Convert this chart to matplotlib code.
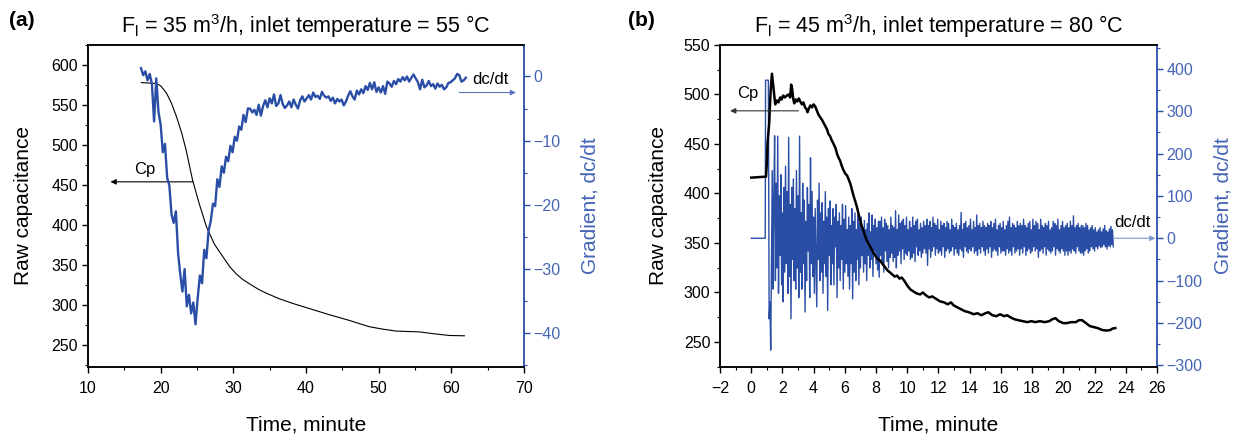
import matplotlib
matplotlib.use('Agg')
import matplotlib.pyplot as plt
from matplotlib.ticker import MultipleLocator
import numpy as np

plt.rcParams['font.family'] = ['Liberation Sans', 'DejaVu Sans']
plt.rcParams['mathtext.fontset'] = 'custom'
plt.rcParams['mathtext.rm'] = 'Liberation Sans'
plt.rcParams['axes.linewidth'] = 1.1

BLUE = '#2a4ea6'
BLUE_TXT = '#4565b5'

# ---- panel (a): 35 m3/h, 55 C ----
cp_a_t = [17.35, 19.4, 20.0, 20.8, 21.5, 22.2, 22.9, 23.5, 24.4, 25.3,
          26.3, 27.4, 28.6, 29.5, 30.4, 31.3, 32.5, 33.5, 34.5, 36.3,
          38.2, 40.7, 43.2, 45.9, 48.7, 50.5, 52.4, 54.0, 55.6, 57.7,
          59.75, 61.8]
cp_a = [578, 577, 574, 565, 552, 535, 515, 494, 456, 427,
        398, 376, 360, 348, 339, 332, 325, 319.5, 315, 308,
        302, 295, 288, 281, 273, 270, 267.5, 267, 266.5, 264,
        262, 261.6]

dcdt_a_start = 17.3
dcdt_a_step = 0.3
dcdt_a = [1.3, 0.2, 0.8, -0.6, 0.4, -1.2, -7.0, -0.3, -5.5, -7.5,
          -11.8, -10.5, -15.8, -17.0, -21.5, -22.8, -21.0, -27.5, -30.8, -33.5,
          -30.0, -35.8, -34.0, -36.9, -35.2, -38.6, -34.5, -31.0, -32.2, -27.0,
          -28.3, -24.0, -22.5, -19.8, -20.2, -16.0, -17.2, -14.0, -15.0, -12.5,
          -13.2, -10.8, -11.8, -9.4, -10.0, -7.8, -8.3, -6.0, -7.1, -5.0,
          -5.0, -5.6, -5.2, -6.0, -4.4, -6.1, -4.6, -3.7, -4.8, -3.4,
          -4.2, -2.8, -4.6, -4.2, -2.9, -4.3, -4.9, -4.5, -3.9, -4.8,
          -3.6, -4.4, -5.0, -3.7, -3.1, -3.9, -3.4, -2.9, -3.6, -2.5,
          -3.2, -3.0, -3.5, -2.4, -3.0, -3.3, -3.1, -3.8, -3.3, -4.2,
          -3.5, -3.9, -3.6, -4.5, -3.9, -3.0, -2.3, -3.1, -3.6, -2.2,
          -2.8, -2.0, -2.6, -1.5, -2.1, -1.0, -2.0, -0.9, -2.4, -1.7,
          -2.5, -1.5, -2.7, -0.8, -1.1, -1.6, -0.7, -1.2, -0.4, -0.8,
          -0.1, -0.6, 0.0, -0.8, -0.2, 0.3, -0.3, -0.9, -2.0, -0.5,
          -1.7, -1.4, -0.7, -1.5, -1.2, -1.9, -1.1, -1.6, -1.3, -2.0,
          -1.7, -1.0, -0.9, -0.6, -0.3, 0.4, 0.2, -0.8, -0.6, -0.2]

# ---- panel (b): 45 m3/h, 80 C ----
cp_b_t = [0.0, 0.5, 0.95, 1.0, 1.05, 1.15, 1.25, 1.33, 1.42, 1.54,
          1.65, 1.75, 1.86, 1.95, 2.05, 2.15, 2.29, 2.4, 2.5, 2.56,
          2.62, 2.7, 2.76, 2.85, 2.95, 3.05, 3.14, 3.25, 3.35, 3.45,
          3.55, 3.61, 3.7, 3.8, 3.9, 4.0, 4.1, 4.2, 4.3, 4.42,
          4.55, 4.65, 4.75, 4.85, 4.95, 5.05, 5.15, 5.28, 5.4, 5.5,
          5.6, 5.7, 5.8, 5.9, 6.03, 6.15, 6.25, 6.35, 6.45, 6.55,
          6.65, 6.78, 6.9, 7.0, 7.1, 7.2, 7.3, 7.42, 7.53, 7.63,
          7.8, 7.95, 8.1, 8.27, 8.45, 8.6, 8.75, 8.91, 9.05, 9.2,
          9.35, 9.5, 9.65, 9.8, 10.0, 10.2, 10.4, 10.6, 10.83, 11.0,
          11.2, 11.4, 11.6, 11.9, 12.1, 12.35, 12.6, 12.8, 12.97, 13.2,
          13.45, 13.7, 13.95, 14.25, 14.5, 14.75, 15.0, 15.2, 15.45, 15.7,
          15.95, 16.2, 16.4, 16.6, 16.85, 17.1, 17.4, 17.7, 17.95, 18.2,
          18.5, 18.8, 19.1, 19.3, 19.5, 19.7, 20.0, 20.2, 20.5, 20.8,
          21.0, 21.2, 21.45, 21.7, 21.94, 22.2, 22.5, 22.8, 23.0, 23.15,
          23.33]
cp_b = [416, 416.5, 417, 430, 452, 470, 505, 521, 508, 490,
        494, 492, 497, 495, 499, 497, 499, 500, 497, 510,
        506, 495, 491, 495, 493, 496, 493, 490, 492, 487,
        485, 482, 486, 489, 487, 490, 488, 484, 480, 477,
        474, 471, 468, 465, 460, 458, 454, 450, 446, 440,
        436, 433, 428, 424, 420, 418, 414, 410, 404, 398,
        393, 386, 378, 372, 366, 362, 357, 352, 349, 346,
        341, 337, 334, 332, 328, 325, 322, 320, 318, 316,
        317, 314, 315, 312, 307, 303, 301, 299, 298, 300,
        297, 295, 296, 293, 291, 290, 288, 290, 287, 285,
        283, 281, 280, 278, 279, 277, 279, 280, 277, 276,
        278, 276, 277, 275, 273, 272, 271, 270, 271, 270,
        271, 270, 271, 273, 274, 271, 269, 269, 270, 270,
        272, 272, 269, 266, 265, 264, 262, 261.5, 262, 263.5,
        264]

# step-up before the noisy record starts
dcdt_b_lead_t = [0.0, 0.9, 0.92, 1.1, 1.15]
dcdt_b_lead = [0, 0, 373, 373, -190]
# noisy record, one row per minute
dcdt_b_start = 1.2
dcdt_b_step = 0.05
dcdt_b = [-150, -264, -60, 160, -120, 90, 242, -100, 130, -70, 241, -130, 100, -40, 150, -110, 60, -150, 120, -80,
          170, -60, 110, -130, 238, -90, 80, -190, 120, -50, 140, -100, 70, -120, 160, -70, 100, -140, 241, -80,
          60, -120, 130, -60, 90, -174, 40, -100, 120, -30, 80, -140, 190, -60, 110, -90, 50, -130, 70, -40,
          -162, 90, -50, 130, -100, 60, -80, 84, -130, 40, -60, 110, -90, 50, -170, 70, -40, 88, -110, 30,
          -60, 70, -110, 50, -20, 80, -140, 40, -70, 60, -100, 30, -50, 80, -120, 45, -80, 77, -60, 20,
          -90, 50, -120, 30, -60, 70, -143, 40, -80, 60, -100, 20, -50, 55, -110, 35, -70, 50, -40, 25,
          -80, 42, -60, 20, -100, 35, -40, 60, -70, 15, -50, 55, -90, 30, -30, 45, -60, 25, -75, 40,
          -92, 40, -40, 50, -60, 25, -80, 45, -30, 35, -55, 30, -70, 20, -45, 50, -35, 30, -55, 25,
          -45, 65, -70, 20, -40, 55, -30, 35, -60, 40, -25, 45, -50, 30, -35, 50, -40, 20, -30, 40,
          -50, 25, -45, 50, -35, 30, -55, 40, -20, 45, -40, 20, -30, 35, -45, 25, -35, 40, -25, 30,
          -35, 45, -64, 30, -25, 40, -45, 25, -30, 50, -20, 35, -40, 30, -25, 45, -35, 20, -30, 40,
          -40, 30, -20, 35, -45, 25, -30, 40, -25, 35, -35, 20, -30, 45, -20, 30, -40, 25, -25, 35,
          -35, 20, -40, 30, -25, 61, -30, 20, -45, 35, -20, 40, -30, 25, -35, 30, -25, 45, -30, 20,
          -20, 40, -35, 25, -30, 55, -40, 30, -25, 35, -35, 25, -20, 40, -30, 30, -40, 25, -25, 35,
          -35, 30, -20, 40, -45, 25, -30, 35, -25, 45, -30, 20, -40, 30, -20, 35, -35, 25, -30, 40,
          -30, 20, -40, 30, -25, 40, -35, 50, -30, 25, -40, 35, -20, 30, -35, 25, -30, 40, -25, 30,
          -40, 35, -25, 30, -35, 45, -20, 30, -40, 25, -30, 35, -25, 40, -35, 20, -30, 45, -20, 30,
          -30, 40, -25, 35, -45, 20, -30, 45, -25, 30, -35, 25, -20, 35, -40, 30, -25, 40, -30, 20,
          -35, 25, -30, 40, -20, 35, -40, 30, -25, 45, -30, 20, -35, 30, -25, 40, -30, 25, -40, 30,
          -30, 35, -40, 25, -30, 40, -35, 30, -25, 53, -30, 25, -35, 30, -20, 35, -30, 25, -35, 30,
          -35, 30, -40, 25, -30, 35, -25, 30, -35, 20, -30, 25, -20, 30, -25, 20, -30, 25, -20, 15,
          -25, 20, -18, 25, -22, 15, -20, 22, -15, 30, -20, 18, -25, 15, -18, 22, -20, 28, -15, 20,
          -20]

fig = plt.figure(figsize=(12.39, 4.34), dpi=100)
ax_a = fig.add_axes([0.0710, 0.1551, 0.3519, 0.7412])
ax_b = fig.add_axes([0.5811, 0.1551, 0.3527, 0.7412])


def style_axes(ax, ax2):
    ax.tick_params(axis='both', which='major', direction='out', length=4,
                   width=1.0, labelsize=11.5)
    ax.tick_params(axis='both', which='minor', direction='out', length=2.5,
                   width=0.8)
    ax.tick_params(axis='x', pad=6)
    ax.tick_params(axis='y', pad=3)
    ax2.tick_params(axis='y', which='major', direction='out', length=4,
                    width=1.0, labelsize=11.5, colors=BLUE, labelcolor=BLUE_TXT,
                    pad=3)
    ax2.tick_params(axis='y', which='minor', direction='out', length=2.5,
                    width=0.8, colors=BLUE)
    ax2.spines['right'].set_color(BLUE)
    ax2.spines['right'].set_linewidth(1.3)
    ax.spines['right'].set_visible(False)
    ax.set_xlabel('Time, minute', fontsize=15, labelpad=14)
    ax.set_ylabel('Raw capacitance', fontsize=15)
    ax2.set_ylabel('Gradient, dc/dt', fontsize=15, color=BLUE_TXT)


# panel (a)
ax2_a = ax_a.twinx()
ax_a.plot(cp_a_t, cp_a, color='black', lw=0.8)
t_a = dcdt_a_start + dcdt_a_step * np.arange(len(dcdt_a))
ax2_a.plot(t_a, dcdt_a, color=BLUE, lw=1.7)
ax_a.set_xlim(10, 70)
ax_a.set_ylim(223, 625)
ax2_a.set_ylim(-45.2, 4.9)
ax_a.xaxis.set_major_locator(MultipleLocator(10))
ax_a.xaxis.set_minor_locator(MultipleLocator(5))
ax_a.yaxis.set_major_locator(MultipleLocator(50))
ax_a.yaxis.set_minor_locator(MultipleLocator(25))
ax2_a.yaxis.set_major_locator(MultipleLocator(10))
ax2_a.yaxis.set_minor_locator(MultipleLocator(5))
style_axes(ax_a, ax2_a)
ax_a.yaxis.labelpad = 13
ax2_a.yaxis.labelpad = 14
ax_a.set_title('F$_\\mathregular{l}$ = 35 m$^\\mathregular{3}$/h, inlet temperature = 55 °C',
               fontsize=15.5, pad=9)

ax_a.annotate('', xy=(13.1, 454), xytext=(24.4, 454),
              arrowprops=dict(arrowstyle='-|>', color='black', lw=0.8,
                              mutation_scale=8, shrinkA=0, shrinkB=0))
ax_a.text(17.8, 470, 'Cp', fontsize=12, ha='center', va='center')
ax2_a.annotate('', xy=(68.9, -2.5), xytext=(61.1, -2.5),
               arrowprops=dict(arrowstyle='-|>', color='#5a78c0', lw=0.8,
                               mutation_scale=8, shrinkA=0, shrinkB=0))
ax2_a.text(65.4, -0.4, 'dc/dt', fontsize=12, ha='center', va='center')

# panel (b)
ax2_b = ax_b.twinx()
t_b = dcdt_b_start + dcdt_b_step * np.arange(len(dcdt_b))
ax2_b.plot(np.concatenate([dcdt_b_lead_t, t_b]),
           np.concatenate([dcdt_b_lead, dcdt_b]), color=BLUE, lw=1.0)
ax_b.plot(cp_b_t, cp_b, color='black', lw=1.8)
ax_b.set_zorder(ax2_b.get_zorder() + 1)
ax_b.patch.set_visible(False)
ax_b.set_xlim(-2, 26)
ax_b.set_ylim(225, 550)
ax2_b.set_ylim(-303, 456)
ax_b.xaxis.set_major_locator(MultipleLocator(2))
ax_b.xaxis.set_minor_locator(MultipleLocator(1))
ax_b.yaxis.set_major_locator(MultipleLocator(50))
ax_b.yaxis.set_minor_locator(MultipleLocator(25))
ax2_b.yaxis.set_major_locator(MultipleLocator(100))
ax2_b.yaxis.set_minor_locator(MultipleLocator(50))
style_axes(ax_b, ax2_b)
ax_b.yaxis.labelpad = 11
ax2_b.yaxis.labelpad = 8
ax_b.set_title('F$_\\mathregular{l}$ = 45 m$^\\mathregular{3}$/h, inlet temperature = 80 °C',
               fontsize=15.5, pad=9)

ax_b.annotate('', xy=(-1.35, 483.5), xytext=(3.03, 483.5),
              arrowprops=dict(arrowstyle='-|>', color='#333333', lw=0.8,
                              mutation_scale=8, shrinkA=0, shrinkB=0))
ax_b.text(-0.2, 501, 'Cp', fontsize=12, ha='center', va='center')
ax2_b.annotate('', xy=(25.9, 0), xytext=(23.27, 0),
               arrowprops=dict(arrowstyle='-|>', color='#7f97d0', lw=0.8,
                               mutation_scale=8, shrinkA=0, shrinkB=0))
ax2_b.text(24.4, 37, 'dc/dt', fontsize=12, ha='center', va='center')

fig.text(22 / 1239, 1 - 20 / 434, '(a)', fontsize=15, fontweight='bold',
         ha='center', va='center')
fig.text(641 / 1239, 1 - 20 / 434, '(b)', fontsize=15, fontweight='bold',
         ha='center', va='center')

fig.savefig('out.png', dpi=100)
